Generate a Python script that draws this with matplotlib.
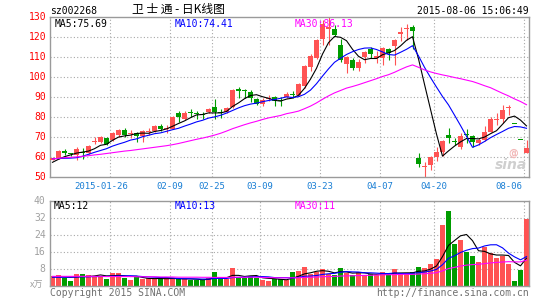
import matplotlib
matplotlib.use("Agg")
import matplotlib.pyplot as plt
import numpy as np

# ---------------- data ----------------
opens = [58.8, 59.7, 63.2, 62.0, 61.2, 62.8, 62.3, 67.5, 67.5, 69.5,
         68.5, 71.0, 73.5, 71.5, 72.0, 70.5, 72.5, 73.2, 75.8, 74.0,
         74.3, 82.3, 79.0, 82.5, 82.0, 81.5, 82.5, 85.3, 82.5, 82.8,
         85.0, 94.0, 93.5, 92.8, 89.3, 86.5, 89.0, 90.3, 88.5, 90.0,
         91.5, 91.2, 95.5, 105.0, 109.5, 119.0, 124.0, 124.2, 116.2, 106.5,
         108.5, 104.5, 110.0, 114.0, 109.5, 109.5, 114.0, 115.5, 121.5, 124.0,
         125.3, 59.8, 55.0, 56.3, 60.3, 62.5, 71.3, 68.0, 65.3, 71.8,
         70.5, 67.3, 68.7, 72.8, 78.7, 79.2, 84.5, 76.7, 69.2, 62.3]
highs = [60.2, 63.5, 64.0, 62.3, 65.3, 64.8, 66.3, 70.0, 70.8, 70.0,
         72.5, 74.0, 74.8, 73.5, 72.5, 73.8, 74.5, 76.2, 76.5, 76.0,
         80.5, 83.3, 83.0, 84.2, 83.3, 82.5, 84.5, 89.0, 84.0, 85.3,
         94.0, 95.0, 94.2, 93.5, 89.7, 89.5, 91.0, 90.5, 90.0, 92.5,
         93.3, 97.0, 106.0, 111.5, 119.0, 128.7, 130.0, 126.0, 119.0, 110.8,
         109.5, 109.0, 113.0, 115.0, 113.0, 115.3, 114.5, 119.0, 125.3, 126.5,
         126.3, 62.3, 57.5, 60.5, 65.0, 68.5, 74.5, 69.5, 72.0, 74.0,
         71.2, 69.5, 75.5, 80.0, 82.2, 86.0, 86.2, 76.7, 69.2, 68.8]
lows = [58.5, 59.3, 61.0, 60.8, 58.8, 59.0, 61.5, 66.5, 67.0, 66.0,
        68.0, 70.0, 70.0, 69.5, 67.5, 67.8, 71.0, 72.8, 73.0, 72.0,
        74.0, 77.8, 78.5, 80.3, 79.2, 79.0, 82.0, 79.0, 79.5, 82.0,
        84.5, 89.5, 89.5, 87.5, 86.0, 85.5, 88.0, 85.5, 85.5, 89.5,
        89.5, 90.5, 94.5, 103.0, 109.0, 116.0, 116.0, 120.5, 107.7, 102.0,
        103.5, 103.0, 107.0, 109.5, 107.0, 106.0, 108.5, 106.0, 118.0, 118.7,
        114.0, 55.3, 50.3, 53.5, 58.0, 60.5, 67.0, 66.0, 64.3, 67.0,
        65.3, 66.0, 68.0, 72.5, 76.0, 77.3, 81.0, 76.6, 69.1, 62.0]
closes = [59.5, 63.2, 62.0, 61.5, 64.3, 62.0, 65.8, 68.0, 70.0, 66.5,
          72.2, 73.8, 71.0, 72.0, 70.5, 73.3, 73.0, 75.8, 74.2, 74.5,
          80.2, 80.0, 82.3, 82.0, 81.5, 81.0, 84.2, 82.5, 82.0, 84.8,
          93.5, 93.4, 93.0, 89.8, 86.7, 88.5, 89.5, 88.0, 88.0, 91.5,
          91.0, 96.5, 105.5, 110.8, 118.7, 126.5, 125.0, 121.0, 108.8, 110.3,
          104.8, 107.7, 112.5, 111.5, 110.5, 114.5, 112.0, 118.7, 122.8, 124.5,
          123.3, 56.5, 55.5, 60.3, 62.5, 68.2, 69.5, 67.7, 70.5, 71.3,
          67.8, 68.5, 72.5, 79.0, 78.8, 83.5, 85.1, 76.6, 68.9, 64.5]
volumes = [4.5, 5.0, 3.4, 2.2, 5.5, 5.5, 5.0, 4.8, 4.5, 3.3,
           5.9, 5.9, 3.75, 2.8, 3.9, 3.1, 3.6, 3.3, 3.0, 3.4,
           3.75, 3.0, 3.0, 2.8, 2.8, 2.5, 3.75, 6.4, 3.0, 3.0,
           8.1, 3.8, 3.8, 4.5, 3.8, 2.8, 2.4, 3.0, 3.0, 2.8,
           6.4, 6.9, 8.75, 5.5, 6.4, 7.8, 5.5, 5.0, 8.3, 5.8,
           5.0, 6.25, 5.0, 5.5, 5.0, 6.25, 5.0, 7.8, 5.9, 5.3,
           6.25, 8.75, 8.4, 10.2, 12.8, 28.4, 35.0, 19.8, 21.4, 15.9,
           13.9, 11.25, 18.3, 15.6, 13.1, 13.9, 10.2, 2.2, 7.3, 31.25]

ma5 = [57.5, 59.0, 60.3, 61.2, 62.1, 62.6, 63.1, 64.3, 66.0, 66.5,
       68.5, 70.1, 70.7, 71.1, 71.9, 72.1, 72.0, 72.9, 73.4, 74.2,
       75.5, 76.9, 78.2, 79.8, 81.2, 81.4, 82.2, 82.2, 82.2, 82.9,
       85.4, 87.2, 89.3, 90.9, 91.3, 90.3, 89.5, 88.5, 88.1, 89.1,
       89.6, 91.0, 94.5, 99.1, 104.5, 111.6, 117.3, 120.4, 120.0, 118.3,
       114.0, 110.5, 108.8, 109.4, 109.4, 111.3, 112.2, 113.4, 115.7, 118.5,
       120.3, 109.2, 96.5, 84.0, 71.6, 60.6, 63.2, 65.6, 67.7, 69.4,
       69.4, 69.2, 70.1, 71.8, 73.3, 76.5, 79.8, 80.6, 78.6, 75.7]
ma10 = [59.3, 59.4, 59.5, 59.6, 59.8, 60.5, 61.5, 62.5, 63.4, 64.3,
        65.6, 66.6, 67.5, 68.6, 69.2, 70.3, 71.0, 71.8, 72.2, 73.0,
        73.8, 74.5, 75.6, 76.6, 77.7, 78.5, 79.6, 80.2, 81.0, 82.1,
        83.4, 84.7, 85.8, 86.6, 87.1, 87.8, 88.4, 88.9, 89.5, 90.2,
        89.9, 90.3, 91.5, 93.6, 96.8, 100.6, 104.2, 107.5, 109.5, 111.4,
        112.8, 113.9, 114.6, 114.7, 113.9, 112.7, 111.4, 111.1, 112.5, 114.0,
        115.8, 110.7, 105.0, 99.9, 95.1, 90.4, 86.2, 81.1, 75.9, 70.5,
        65.0, 66.2, 67.9, 69.8, 71.4, 72.9, 74.5, 75.4, 75.2, 74.5]
ma30 = [59.2, 59.5, 59.8, 60.0, 60.2, 60.5, 60.8, 61.2, 61.5, 61.9,
        62.3, 62.7, 63.1, 63.4, 63.8, 64.2, 64.6, 65.0, 65.4, 65.8,
        66.3, 66.9, 67.6, 68.3, 69.0, 69.6, 70.3, 71.1, 72.0, 73.1,
        74.3, 75.3, 76.3, 77.2, 78.0, 78.9, 79.7, 80.3, 80.9, 81.8,
        82.4, 83.1, 84.3, 85.6, 87.2, 89.0, 90.7, 92.2, 93.4, 94.6,
        95.4, 96.3, 97.3, 98.3, 99.3, 100.4, 101.3, 102.5, 103.9, 105.2,
        106.2, 105.0, 103.7, 102.7, 101.9, 101.2, 100.6, 99.9, 99.3, 98.6,
        97.9, 96.9, 95.8, 94.8, 93.4, 92.0, 90.7, 89.2, 87.9, 86.3]

vma5 = [4.2, 4.2, 4.1, 4.0, 4.12, 4.32, 4.32, 4.6, 5.06, 4.62,
        4.7, 4.88, 4.67, 4.33, 4.45, 3.89, 3.43, 3.34, 3.38, 3.28,
        3.41, 3.29, 3.23, 3.19, 3.07, 2.82, 2.97, 3.65, 3.69, 3.73,
        4.85, 4.86, 4.34, 4.64, 4.8, 3.74, 3.46, 3.3, 3.0, 2.8,
        3.52, 4.42, 5.57, 6.07, 6.79, 7.07, 6.79, 6.04, 6.6, 6.48,
        5.92, 6.07, 6.07, 5.51, 5.35, 5.6, 5.35, 5.91, 5.99, 6.05,
        6.05, 6.8, 6.92, 7.78, 9.28, 13.71, 18.96, 21.24, 23.48, 24.1,
        21.2, 16.45, 16.15, 14.99, 14.43, 14.43, 14.22, 11.0, 9.34, 12.97]
vma10 = [4.0, 4.0, 4.0, 4.0, 4.1, 4.2, 4.2, 4.3, 4.3, 4.37,
         4.51, 4.6, 4.64, 4.7, 4.54, 4.3, 4.16, 4.01, 3.86, 3.87,
         3.65, 3.36, 3.29, 3.29, 3.18, 3.12, 3.13, 3.44, 3.44, 3.4,
         3.84, 3.92, 4.0, 4.17, 4.27, 4.3, 4.16, 3.82, 3.82, 3.8,
         3.63, 3.94, 4.44, 4.54, 4.8, 5.3, 5.61, 5.81, 6.34, 6.64,
         6.5, 6.43, 6.06, 6.06, 5.92, 5.76, 5.71, 5.99, 5.75, 5.7,
         5.83, 6.08, 6.42, 6.89, 7.67, 9.88, 12.88, 14.08, 15.63, 16.69,
         17.46, 17.71, 18.7, 19.24, 19.27, 17.82, 15.34, 13.58, 12.17, 13.7]
vma30 = [4.4, 4.4, 4.4, 4.4, 4.4, 4.4, 4.4, 4.4, 4.4, 4.3,
         4.3, 4.3, 4.3, 4.3, 4.2, 4.2, 4.2, 4.2, 4.1, 4.1,
         4.1, 4.0, 4.0, 4.0, 4.0, 3.95, 3.95, 3.9, 3.9, 3.88,
         4.0, 3.96, 3.97, 4.05, 3.99, 3.9, 3.82, 3.76, 3.71, 3.69,
         3.71, 3.74, 3.91, 4.0, 4.08, 4.24, 4.3, 4.36, 4.54, 4.62,
         4.66, 4.77, 4.83, 4.92, 5.0, 5.12, 5.16, 5.21, 5.31, 5.38,
         5.32, 5.49, 5.64, 5.83, 6.13, 6.98, 8.07, 8.63, 9.24, 9.68,
         9.93, 10.07, 10.39, 10.73, 10.95, 11.15, 11.31, 11.22, 11.18, 12.03]

date_labels = ["2015-01-26", "02-09", "02-25", "03-09", "03-23", "04-07", "04-20", "08-06"]
date_index = [10, 20, 27, 35, 45, 55, 64, 79]
price_ticks = [50, 60, 70, 80, 90, 100, 110, 120, 130]
vol_ticks = [8, 16, 24, 32, 40]

stock_code = "sz002268"
title_text = "卫 士 通 - 日K线图"
time_text = "2015-08-06 15:06:49"
ma_price_labels = ["MA5:75.69", "MA10:74.41", "MA30:86.13"]
ma_vol_labels = ["MA5:12", "MA10:13", "MA30:11"]

# ---------------- styling ----------------
W, H = 545, 300
RED = "#ff5353"
GREEN = "#009c00"
GRID = "#a8a8a8"
FRAME = "#9a9a9a"
MONO = "DejaVu Sans Mono"
CJK = ["Noto Sans CJK SC", "DejaVu Sans"]
LW = 0.8

fig = plt.figure(figsize=(W / 100, H / 100), dpi=100)
fig.patch.set_facecolor("white")

n = len(closes)
x = np.arange(n)
slot = 6.0                     # pixels per candle
left_px, right_px = 50, 529.3
x0 = -2.5 / slot
x1 = x0 + (right_px - left_px) / slot


def fpos(xp, yp):
    return xp / W, 1 - yp / H


def ftext(xp, yp, s, **kw):
    kw.setdefault("va", "center")
    fx, fy = fpos(xp, yp)
    fig.text(fx, fy, s, **kw)


m_top, m_bot = 17.3, 177.3
ax = fig.add_axes([left_px / W, 1 - m_bot / H, (right_px - left_px) / W, (m_bot - m_top) / H])
v_top, v_bot = 200.7, 285.7
axv = fig.add_axes([left_px / W, 1 - v_bot / H, (right_px - left_px) / W, (v_bot - v_top) / H])

for a in (ax, axv):
    a.set_xlim(x0, x1)
    a.set_xticks([])
    a.set_yticks([])
    for s in a.spines.values():
        s.set_color(FRAME)
        s.set_linewidth(1.0)
    a.set_facecolor("white")

ax.set_ylim(50, 130)
axv.set_ylim(0, 40)

grid_kw = dict(color=GRID, linewidth=0.8, linestyle=(0, (1, 2)), zorder=0)
for p in price_ticks[1:-1]:
    ax.axhline(p, **grid_kw)
for v in vol_ticks[:-1]:
    axv.axhline(v, **grid_kw)
for di in date_index:
    ax.axvline(di + x0, **grid_kw)
    axv.axvline(di + x0, **grid_kw)

# candles
o = np.array(opens); c = np.array(closes); h = np.array(highs); l = np.array(lows)
up = c >= o
colors = [RED if u else GREEN for u in up]
body_w = 4.8 / slot
ax.vlines(x, l, h, colors=colors, linewidth=LW, zorder=2)
bottoms = np.minimum(o, c)
heights = np.maximum(np.abs(c - o), 0.5)
ax.bar(x, heights, bottom=bottoms, width=body_w, color=colors, linewidth=0, zorder=3)

ax.plot(x, ma5, color="black", linewidth=LW, zorder=4)
ax.plot(x, ma10, color="#0000ff", linewidth=LW, zorder=4)
ax.plot(x, ma30, color="#ff00ff", linewidth=LW, zorder=4)

# volume
axv.bar(x, volumes, width=body_w, color=colors, linewidth=0, zorder=2)
axv.plot(x, vma5, color="black", linewidth=LW, zorder=4)
axv.plot(x, vma10, color="#0000ff", linewidth=LW, zorder=4)
axv.plot(x, vma30, color="#ff00ff", linewidth=LW, zorder=4)

# ---------------- texts ----------------
ftext(50, 10.5, stock_code, family=MONO, fontsize=7, ha="left", color="black")
ftext(178, 9.5, title_text, family=CJK, fontsize=8.5, ha="center", color="black")
ftext(529, 11, time_text, family=MONO, fontsize=7, ha="right", color="black")

for p in price_ticks:
    ftext(46.5, m_top + (130 - p) * 2.0, str(p), family=MONO, fontsize=7, ha="right", color="#ff0000")

ma_cols = ["black", "#0000ff", "#ff00ff"]
for xp, s, col in zip([55, 175, 295], ma_price_labels, ma_cols):
    ftext(xp, 24, s, family=MONO, fontsize=7, ha="left", color=col)
for xp, s, col in zip([54, 175, 295], ma_vol_labels, ma_cols):
    ftext(xp, 206, s, family=MONO, fontsize=7, ha="left", color=col)

for di, lab in zip(date_index, date_labels):
    xp = left_px + slot * di
    if lab.startswith("2015"):
        ftext(xp + 18, 186.5, lab, family=MONO, fontsize=6.5, ha="right", color="#1a7fd4")
    elif di == n - 1:
        ftext(xp - 2, 186.5, lab, family=MONO, fontsize=6.5, ha="right", color="#1a7fd4")
    else:
        ftext(xp, 186.5, lab, family=MONO, fontsize=6.5, ha="center", color="#1a7fd4")

for v in vol_ticks:
    ftext(45.7, v_bot - v * (v_bot - v_top) / 40, str(v), family=MONO, fontsize=7, ha="right", color="#a0a0a0")
ftext(43.5, 285, "x万", family=CJK, fontsize=6.5, ha="right", color="#a0a0a0", style="italic")

ftext(50, 292.5, "Copyright 2015 SINA.COM", family=MONO, fontsize=7, ha="left", color="#707070")
ftext(529, 292.5, "http://finance.sina.com.cn", family=MONO, fontsize=7, ha="right", color="#707070")

# sina watermark
ftext(511, 165, "sina", family="DejaVu Sans", fontsize=10, ha="center", color="#cfcfcf",
      style="italic", fontweight="bold")
ftext(513, 153.5, "@", family="DejaVu Sans", fontsize=7, ha="center", color="#f2b8b8", fontweight="bold")

fig.savefig("out.png", dpi=100, facecolor="white")
